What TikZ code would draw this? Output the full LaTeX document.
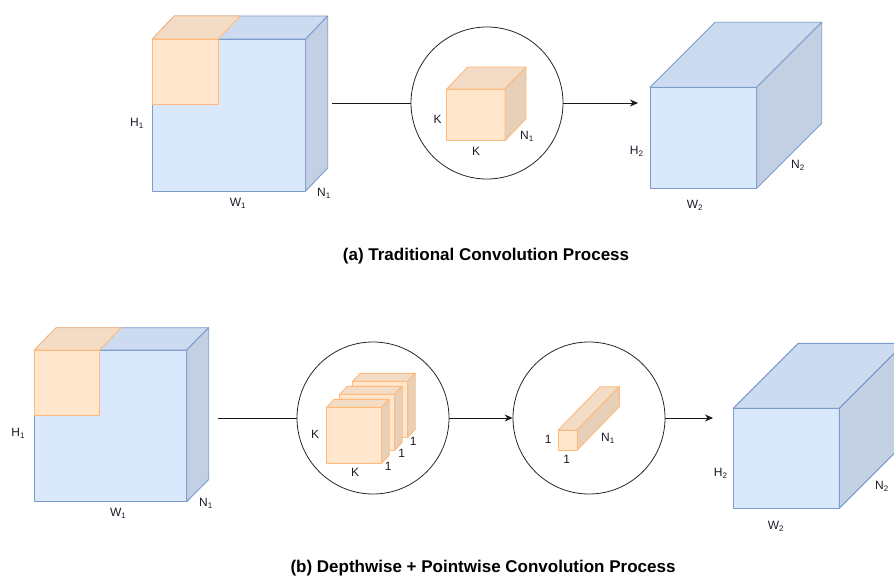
\documentclass[tikz,border=0pt]{standalone}
\usepackage{fontspec}
\setmainfont{Liberation Sans}
\usetikzlibrary{arrows.meta}
\definecolor{bfront}{HTML}{DAE8FC}
\definecolor{btop}{HTML}{CCDBF0}
\definecolor{bside}{HTML}{C3D0E4}
\definecolor{bline}{HTML}{7C9CCB}
\definecolor{ofront}{HTML}{FFE6CC}
\definecolor{otop}{HTML}{F3DCC5}
\definecolor{oside}{HTML}{E8D0B8}
\definecolor{oline}{HTML}{FFB97A}
\definecolor{txt}{HTML}{1A1A2A}
\newcommand\mycube[7]{%
  \filldraw[#7line,fill=#7front,line join=round] (#1,#2) rectangle (#1+#3,#2+#4);
  \filldraw[#7line,fill=#7top,line join=round] (#1,#2) -- (#1+#5,#2-#6) -- (#1+#3+#5,#2-#6) -- (#1+#3,#2) -- cycle;
  \filldraw[#7line,fill=#7side,line join=round] (#1+#3,#2) -- (#1+#3+#5,#2-#6) -- (#1+#3+#5,#2+#4-#6) -- (#1+#3,#2+#4) -- cycle;
}
\tikzset{
  lbl/.style={text=txt,font=\fontsize{12}{14}\selectfont,inner sep=0pt},
  title/.style={text=black,font=\fontsize{17}{19}\selectfont\bfseries,inner sep=0pt},
  ring/.style={circle,draw=black!85,line width=0.8pt,minimum size=152pt,inner sep=0pt},
  conn/.style={draw=black!90,line width=0.9pt},
  arr/.style={conn,-{Stealth[length=8pt,width=7pt]}}
}
\begin{document}
\begin{tikzpicture}[x=1pt,y=-1pt,line width=0.9pt]
\useasboundingbox (0,0) rectangle (894,578);
\begin{scope}
\clip (0,0) rectangle (894,578);
% ---------- (a) ----------
\mycube{152.3}{39}{153.4}{152}{22}{23}{b}
\filldraw[oline,fill=ofront] (152.3,39) rectangle (218.3,104.3);
\filldraw[oline,fill=otop,line join=round] (152.3,39) -- (174.3,16) -- (240.3,16) -- (218.3,39) -- cycle;
\node[lbl] (h1a) at (137,123) {H\textsubscript{1}};
\node[lbl] (w1a) at (238,203) {W\textsubscript{1}};
\node[lbl] (n1a) at (324,193) {N\textsubscript{1}};
\coordinate (outa) at (332,103);

\node[ring] (circa) at (487,103) {};
\mycube{446.7}{89}{58.3}{51.7}{21}{22}{o}
\node[lbl] (ka1) at (437.7,119.3) {K};
\node[lbl] (ka2) at (476,151) {K};
\node[lbl] (na) at (527,136) {N\textsubscript{1}};

\coordinate (ina) at (638,103);
\mycube{650}{87.3}{106.7}{101}{65}{65}{b}
\node[lbl] (h2a) at (636.7,151) {H\textsubscript{2}};
\node[lbl] (w2a) at (695,205) {W\textsubscript{2}};
\node[lbl] (n2a) at (798,165) {N\textsubscript{2}};

\draw[conn] (outa) -- (circa.west);
\draw[arr] (circa.east) -- (ina);

\node[title] (ta) at (486,256) {(a) Traditional Convolution Process};

% ---------- (b) ----------
\mycube{34.3}{350}{152.4}{151.7}{22}{22.3}{b}
\filldraw[oline,fill=ofront] (34.3,350) rectangle (99.3,415);
\filldraw[oline,fill=otop,line join=round] (34.3,350) -- (56.3,327.7) -- (121.3,327.7) -- (99.3,350) -- cycle;
\node[lbl] (h1b) at (18.3,433) {H\textsubscript{1}};
\node[lbl] (w1b) at (118.3,513) {W\textsubscript{1}};
\node[lbl] (n1b) at (206,503) {N\textsubscript{1}};
\coordinate (outb) at (218,418);

\node[ring] (circb) at (373,418) {};
\mycube{352.7}{381.3}{55}{56}{7.5}{8}{o}
\mycube{339.7}{394.3}{55}{56}{7.5}{8}{o}
\mycube{326.7}{407.3}{55}{56}{7.5}{8}{o}
\node[lbl] (kb1) at (315,434) {K};
\node[lbl] (kb2) at (355,472) {K};
\node[lbl] (ob1) at (388.3,466) {1};
\node[lbl] (ob2) at (401.7,453.3) {1};
\node[lbl] (ob3) at (413.3,441.7) {1};

\node[ring] (circc) at (589,418) {};
\mycube{558.3}{430}{19}{20}{42}{43.3}{o}
\node[lbl] (oc1) at (548.3,439.3) {1};
\node[lbl] (oc2) at (566.7,459) {1};
\node[lbl] (nc) at (608,438) {N\textsubscript{1}};

\coordinate (inb) at (713,418);
\mycube{733.3}{408.3}{106}{100}{65}{65}{b}
\node[lbl] (h2b) at (720.7,473) {H\textsubscript{2}};
\node[lbl] (w2b) at (776,526) {W\textsubscript{2}};
\node[lbl] (n2b) at (882,486) {N\textsubscript{2}};

\draw[conn] (outb) -- (circb.west);
\draw[arr] (circb.east) -- (circc.west);
\draw[arr] (circc.east) -- (inb);

\node[title] (tb) at (483,568) {(b) Depthwise + Pointwise Convolution Process};
\end{scope}
\end{tikzpicture}
\end{document}
